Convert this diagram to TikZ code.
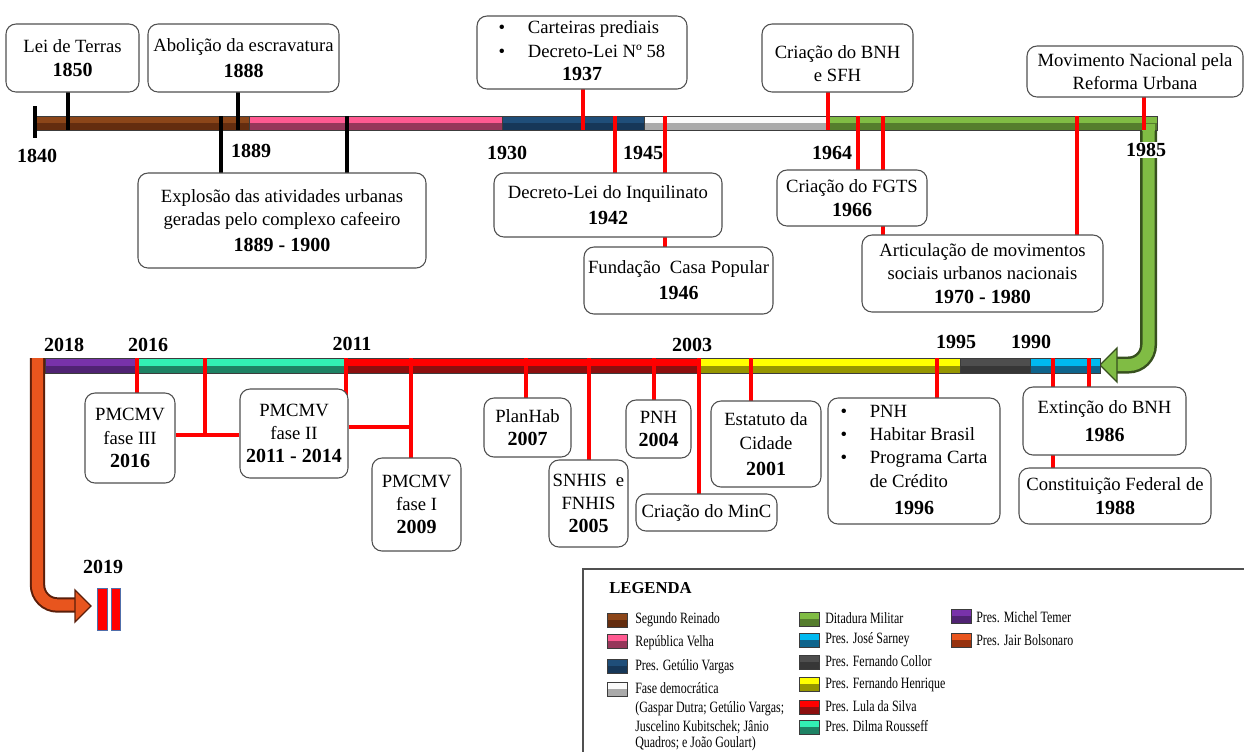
\documentclass[tikz,border=0pt]{standalone}
\usepackage{fontspec}
\setmainfont{Liberation Serif}
\newfontfamily\legfont[FakeStretch=0.76]{Liberation Serif}
\definecolor{brL}{RGB}{140,70,25}\definecolor{brD}{RGB}{100,45,15}
\definecolor{pkL}{RGB}{255,90,145}\definecolor{pkD}{RGB}{150,55,90}
\definecolor{dbL}{RGB}{31,78,121}\definecolor{dbD}{RGB}{22,55,88}
\definecolor{whL}{RGB}{250,250,250}\definecolor{whD}{RGB}{170,170,170}
\definecolor{grL}{RGB}{128,188,68}\definecolor{grD}{RGB}{85,125,45}\definecolor{grO}{RGB}{55,80,30}
\definecolor{puL}{RGB}{120,50,170}\definecolor{puD}{RGB}{80,35,115}
\definecolor{tlL}{RGB}{50,240,180}\definecolor{tlD}{RGB}{30,130,100}
\definecolor{rdL}{RGB}{255,0,0}\definecolor{rdD}{RGB}{140,15,15}
\definecolor{ylL}{RGB}{255,255,0}\definecolor{ylD}{RGB}{150,150,0}
\definecolor{dgL}{RGB}{78,78,78}\definecolor{dgD}{RGB}{55,55,55}
\definecolor{lbL}{RGB}{0,185,240}\definecolor{lbD}{RGB}{15,100,140}
\definecolor{orL}{RGB}{232,85,30}\definecolor{orD}{RGB}{150,50,15}\definecolor{orO}{RGB}{90,30,10}
\definecolor{boxc}{RGB}{80,80,80}
\definecolor{barc}{RGB}{60,60,60}
\definecolor{iiblue}{RGB}{80,110,170}
\newcommand\tlseg[6]{%
  \fill[#5] (#1,#3) rectangle (#2,{(#3+#4)/2});
  \fill[#6] (#1,{(#3+#4)/2}) rectangle (#2,#4);
  \draw[barline] (#1,#3) rectangle (#2,#4);}
\newcommand\yr[1]{{\fontsize{15}{17.5}\selectfont\bfseries #1}}
\begin{document}
\begin{tikzpicture}[x=0.75pt,y=-0.75pt,
  box/.style={draw=boxc, line width=0.8pt, rounded corners=7.5pt, fill=white, align=center, inner sep=1pt, font=\fontsize{14}{17.5}\selectfont},
  blk/.style={line width=2.4pt, black},
  rdl/.style={line width=2.4pt, red},
  yrlab/.style={font=\fontsize{15}{18}\selectfont\bfseries, inner sep=0pt},
  barline/.style={draw=barc, line width=0.75pt},
  legtxt/.style={anchor=base west, inner sep=0pt, font=\legfont\fontsize{11.8}{13}\selectfont},
]
\useasboundingbox (0,0) rectangle (1244,751);

% ---- arrows ----
\draw[line width=12.75pt, grO, rounded corners=15pt] (1148.5,124) -- (1148.5,365) -- (1112,365);
\draw[line width=9pt, grL, rounded corners=15pt] (1148.5,124) -- (1148.5,365) -- (1112,365);
\filldraw[fill=grL, draw=grO, line width=1pt] (1117,348) -- (1100,365) -- (1117,382) -- cycle;

\draw[line width=11.5pt, orO, rounded corners=15pt] (37.5,358) -- (37.5,605) -- (77,605);
\draw[line width=8.5pt, orL, rounded corners=15pt] (37.5,358) -- (37.5,605) -- (77,605);
\filldraw[fill=orL, draw=orO, line width=1pt] (75,590) -- (91,606) -- (75,622) -- cycle;

% ---- top bar ----
\tlseg{36}{249}{116}{130}{brL}{brD}
\tlseg{249}{502}{116}{130}{pkL}{pkD}
\tlseg{502}{644}{116}{130}{dbL}{dbD}
\tlseg{644}{828}{116}{130}{whL}{whD}
\tlseg{828}{1157}{116}{130}{grL}{grD}
\fill[grL] (1142,124) rectangle (1155,131);
\draw[line width=3pt, black] (35,106) -- (35,138);

% ---- bottom bar ----
\tlseg{45}{138}{358}{373}{puL}{puD}
\tlseg{138}{345}{358}{373}{tlL}{tlD}
\tlseg{345}{700}{358}{373}{rdL}{rdD}
\tlseg{700}{960}{358}{373}{ylL}{ylD}
\tlseg{960}{1030}{358}{373}{dgL}{dgD}
\tlseg{1030}{1100}{358}{373}{lbL}{lbD}

% ---- 2019 bars ----
\filldraw[fill=red, draw=iiblue, line width=0.75pt] (97,588) rectangle (107,630);
\filldraw[fill=red, draw=iiblue, line width=0.75pt] (111,588) rectangle (120,630);

% ---- tick coordinates ----
\coordinate (c1850) at (68,130);
\coordinate (c1888) at (238,130);
\coordinate (c1889a) at (221,116);
\coordinate (c1889b) at (347,116);
\coordinate (c1937) at (583,130);
\coordinate (c1942) at (615,116);
\coordinate (c1946) at (665,116);
\coordinate (c1964) at (828,130);
\coordinate (c1966) at (858,116);
\coordinate (c1970a) at (883,116);
\coordinate (c1970b) at (1077,116);
\coordinate (c1985) at (1144,130);
\coordinate (c2016) at (137,358);
\coordinate (cj1) at (205,358);
\coordinate (j1) at (205,435);
\coordinate (c2011) at (346,358);
\coordinate (c2009) at (411,358);
\coordinate (j2) at (411,427);
\coordinate (c2007) at (526,358);
\coordinate (c2005) at (589,358);
\coordinate (c2004) at (654,358);
\coordinate (cminc) at (699,358);
\coordinate (c2001) at (751,358);
\coordinate (c1996) at (937,358);
\coordinate (c1986) at (1089,358);
\coordinate (c1988) at (1053,358);

% ---- box placeholders (for names/anchors) ----
\path
 node[box, draw=none, fill=none, minimum width=99.75pt, minimum height=51pt] (lei) at (72.5,58) {}
 node[box, draw=none, fill=none, minimum width=143.25pt, minimum height=51pt] (abol) at (243.5,58) {}
 node[box, draw=none, fill=none, minimum width=216pt, minimum height=71.25pt] (expl) at (282,220.5) {}
 node[box, draw=none, fill=none, minimum width=157.5pt, minimum height=54.75pt] (cart) at (582,52.5) {}
 node[box, draw=none, fill=none, minimum width=171pt, minimum height=48pt] (decr) at (608,205) {}
 node[box, draw=none, fill=none, minimum width=141.75pt, minimum height=50.25pt] (fund) at (678.5,280.5) {}
 node[box, draw=none, fill=none, minimum width=113.25pt, minimum height=51pt] (bnh) at (837.5,58) {}
 node[box, draw=none, fill=none, minimum width=112.5pt, minimum height=42pt] (fgts) at (852,198) {}
 node[box, draw=none, fill=none, minimum width=180.75pt, minimum height=57.75pt] (artic) at (982.5,273.5) {}
 node[box, draw=none, fill=none, minimum width=162pt, minimum height=38.25pt] (movim) at (1135,71.5) {}
 node[box, draw=none, fill=none, minimum width=67.5pt, minimum height=67.5pt] (f3) at (130,438) {}
 node[box, draw=none, fill=none, minimum width=81pt, minimum height=66.75pt] (f2) at (294,433.5) {}
 node[box, draw=none, fill=none, minimum width=66.75pt, minimum height=69.75pt] (f1) at (416.5,504.5) {}
 node[box, draw=none, fill=none, minimum width=65.25pt, minimum height=44.25pt] (planhab) at (527.5,427.5) {}
 node[box, draw=none, fill=none, minimum width=59.25pt, minimum height=65.25pt] (snhis) at (588.5,503.5) {}
 node[box, draw=none, fill=none, minimum width=48.75pt, minimum height=43.5pt] (pnh) at (658.5,429) {}
 node[box, draw=none, fill=none, minimum width=105.75pt, minimum height=27.75pt] (minc) at (706.5,512.5) {}
 node[box, draw=none, fill=none, minimum width=82.5pt, minimum height=64.5pt] (estat) at (766,444) {}
 node[box, draw=none, fill=none, minimum width=129pt, minimum height=94.5pt] (pnh96) at (914,461) {}
 node[box, draw=none, fill=none, minimum width=122.25pt, minimum height=51pt] (ext) at (1104.5,421) {}
 node[box, draw=none, fill=none, minimum width=144pt, minimum height=42pt] (const) at (1115,496) {};

% ---- connectors ----
\draw[blk] (lei.center -| c1850) -- (c1850);
\draw[blk] (abol.center -| c1888) -- (c1888);
\draw[blk] (c1889a) -- (expl.center -| c1889a);
\draw[blk] (c1889b) -- (expl.center -| c1889b);
\draw[rdl] (cart.center -| c1937) -- (c1937);
\draw[rdl] (c1942) -- (decr.center -| c1942);
\draw[rdl] (c1946) -- (fund.center -| c1946);
\draw[rdl] (bnh.center -| c1964) -- (c1964);
\draw[rdl] (c1966) -- (fgts.center -| c1966);
\draw[rdl] (c1970a) -- (artic.center -| c1970a);
\draw[rdl] (c1970b) -- (artic.center -| c1970b);
\draw[rdl] (movim.center -| c1985) -- (c1985);
\draw[rdl] (c2016) -- (f3.center -| c2016);
\draw[rdl] (cj1) -- (j1);
\draw[rdl] (f3.east |- j1) -- (f2.west |- j1);
\draw[rdl] (c2011) -- (f2.center -| c2011);
\draw[rdl] (f2.east |- j2) -- (j2);
\draw[rdl] (c2009) -- (f1.center -| c2009);
\draw[rdl] (c2007) -- (planhab.center -| c2007);
\draw[rdl] (c2005) -- (snhis.center -| c2005);
\draw[rdl] (c2004) -- (pnh.center -| c2004);
\draw[rdl] (cminc) -- (minc.center -| cminc);
\draw[rdl] (c2001) -- (estat.center -| c2001);
\draw[rdl] (c1996) -- (pnh96.center -| c1996);
\draw[rdl] (c1986) -- (ext.center -| c1986);
\draw[rdl] (c1988) -- (const.center -| c1988);

% ---- boxes on top ----
\node[box, minimum width=99.75pt, minimum height=51pt] (leiB) at (lei) {Lei de Terras\\\yr{1850}};
\node[box, minimum width=143.25pt, minimum height=51pt] (abolB) at (abol) {Aboli\c{c}\~ao da escravatura\\[2pt]\yr{1888}};
\node[box, minimum width=216pt, minimum height=71.25pt] (explB) at (expl) {Explos\~ao das atividades urbanas\\geradas pelo complexo cafeeiro\\[2pt]\yr{1889 - 1900}};
\node[box, minimum width=157.5pt, minimum height=54.75pt] (cartB) at (cart) {\begin{tabular}{@{}l@{\hspace{17pt}}l@{}}•&Carteiras prediais\\•&Decreto-Lei Nº 58\\\multicolumn{2}{c}{\yr{1937}}\end{tabular}};
\node[box, minimum width=171pt, minimum height=48pt] (decrB) at (decr) {Decreto-Lei do Inquilinato\\[2pt]\yr{1942}};
\node[box, minimum width=141.75pt, minimum height=50.25pt] (fundB) at (fund) {Funda\c{c}\~ao\ \ Casa Popular\\[2pt]\yr{1946}};
\node[box, minimum width=113.25pt, minimum height=51pt] (bnhB) at (bnh) {\rule{0pt}{18pt}Cria\c{c}\~ao do BNH\\e SFH};
\node[box, minimum width=112.5pt, minimum height=42pt] (fgtsB) at (fgts) {Cria\c{c}\~ao do FGTS\\\yr{1966}};
\node[box, minimum width=180.75pt, minimum height=57.75pt] (articB) at (artic) {Articula\c{c}\~ao de movimentos\\sociais urbanos nacionais\\\yr{1970 - 1980}};
\node[box, minimum width=162pt, minimum height=38.25pt] (movimB) at (movim) {Movimento Nacional pela\\Reforma Urbana};
\node[box, minimum width=67.5pt, minimum height=67.5pt] (f3B) at (f3) {PMCMV\\fase III\\\yr{2016}};
\node[box, minimum width=81pt, minimum height=66.75pt] (f2B) at (f2) {PMCMV\\fase II\\\yr{2011 - 2014}};
\node[box, minimum width=66.75pt, minimum height=69.75pt] (f1B) at (f1) {PMCMV\\fase I\\\yr{2009}};
\node[box, minimum width=65.25pt, minimum height=44.25pt] (planhabB) at (planhab) {PlanHab\\\yr{2007}};
\node[box, minimum width=59.25pt, minimum height=65.25pt] (snhisB) at (snhis) {SNHIS\ \ e\\FNHIS\\\yr{2005}};
\node[box, minimum width=48.75pt, minimum height=43.5pt] (pnhB) at (pnh) {PNH\\\yr{2004}};
\node[box, minimum width=105.75pt, minimum height=27.75pt] (mincB) at (minc) {Cria\c{c}\~ao do MinC};
\node[box, minimum width=82.5pt, minimum height=64.5pt] (estatB) at (estat) {Estatuto da\\Cidade\\[2pt]\yr{2001}};
\node[box, minimum width=129pt, minimum height=94.5pt] (pnh96B) at (pnh96) {\begin{tabular}{@{}l@{\hspace{17pt}}l@{}}•&PNH\\•&Habitar Brasil\\•&Programa Carta\\&de Cr\'edito\\[3pt]\multicolumn{2}{c}{\yr{1996}}\end{tabular}};
\node[box, minimum width=122.25pt, minimum height=51pt] (extB) at (ext) {Extin\c{c}\~ao do BNH\\[4pt]\yr{1986}};
\node[box, minimum width=144pt, minimum height=42pt] (constB) at (const) {Constitui\c{c}\~ao Federal de\\\yr{1988}};

% ---- year labels ----
\node[yrlab] (y1840) at (37,155.5) {1840};
\node[yrlab] (y1889) at (251,150.5) {1889};
\node[yrlab] (y1930) at (507,153) {1930};
\node[yrlab] (y1945) at (643,153) {1945};
\node[yrlab] (y1964) at (832,153) {1964};
\node[yrlab, fill=white, inner sep=0.6pt] (y1985) at (1146,150) {1985};
\node[yrlab] (y2018) at (64,345) {2018};
\node[yrlab] (y2016) at (148,344.5) {2016};
\node[yrlab] (y2011) at (352,344) {2011};
\node[yrlab] (y2003) at (692,345) {2003};
\node[yrlab] (y1995) at (956,341.5) {1995};
\node[yrlab] (y1990) at (1031,341.5) {1990};
\node[yrlab] (y2019) at (103,566.5) {2019};

% ---- legend ----
\draw[draw=boxc, line width=1.1pt] (1250,569) -- (583,569) -- (583,760);
\node[anchor=west, inner sep=0pt, font=\fontsize{12.5}{14}\selectfont\bfseries] (leg) at (609,588) {LEGENDA};
\tlseg{607}{627}{613}{627}{brL}{brD}
\tlseg{607}{627}{634}{648}{pkL}{pkD}
\tlseg{607}{627}{659}{673}{dbL}{dbD}
\tlseg{607}{627}{682}{696}{whL}{whD}
\node[legtxt] (l1) at (635,623) {Segundo Reinado};
\node[legtxt] (l2) at (635,646) {Rep\'ublica Velha};
\node[legtxt] (l3) at (635,670) {Pres. Get\'ulio Vargas};
\node[legtxt] (l4) at (635,693) {Fase democr\'atica};
\node[legtxt] (l4b) at (635,712) {(Gaspar Dutra; Get\'ulio Vargas;};
\node[legtxt] (l4c) at (635,731) {Juscelino Kubitschek; J\^anio};
\node[legtxt] (l4d) at (635,747) {Quadros; e Jo\~ao Goulart)};
\tlseg{799}{819}{612}{626}{grL}{grD}
\tlseg{799}{819}{633}{647}{lbL}{lbD}
\tlseg{799}{819}{655}{669}{dgL}{dgD}
\tlseg{799}{819}{677}{691}{ylL}{ylD}
\tlseg{799}{819}{700}{714}{rdL}{rdD}
\tlseg{799}{819}{720}{734}{tlL}{tlD}
\node[legtxt] (l5) at (825,623) {Ditadura Militar};
\node[legtxt] (l6) at (825,643) {Pres. Jos\'e Sarney};
\node[legtxt] (l7) at (825,666) {Pres. Fernando Collor};
\node[legtxt] (l8) at (825,688) {Pres. Fernando Henrique};
\node[legtxt] (l9) at (825,711) {Pres. Lula da Silva};
\node[legtxt] (l10) at (825,731) {Pres. Dilma Rousseff};
\tlseg{951}{971}{609}{623}{puL}{puD}
\tlseg{951}{971}{633}{647}{orL}{orD}
\node[legtxt] (l11) at (976,622) {Pres. Michel Temer};
\node[legtxt] (l12) at (976,645) {Pres. Jair Bolsonaro};
\end{tikzpicture}
\end{document}
